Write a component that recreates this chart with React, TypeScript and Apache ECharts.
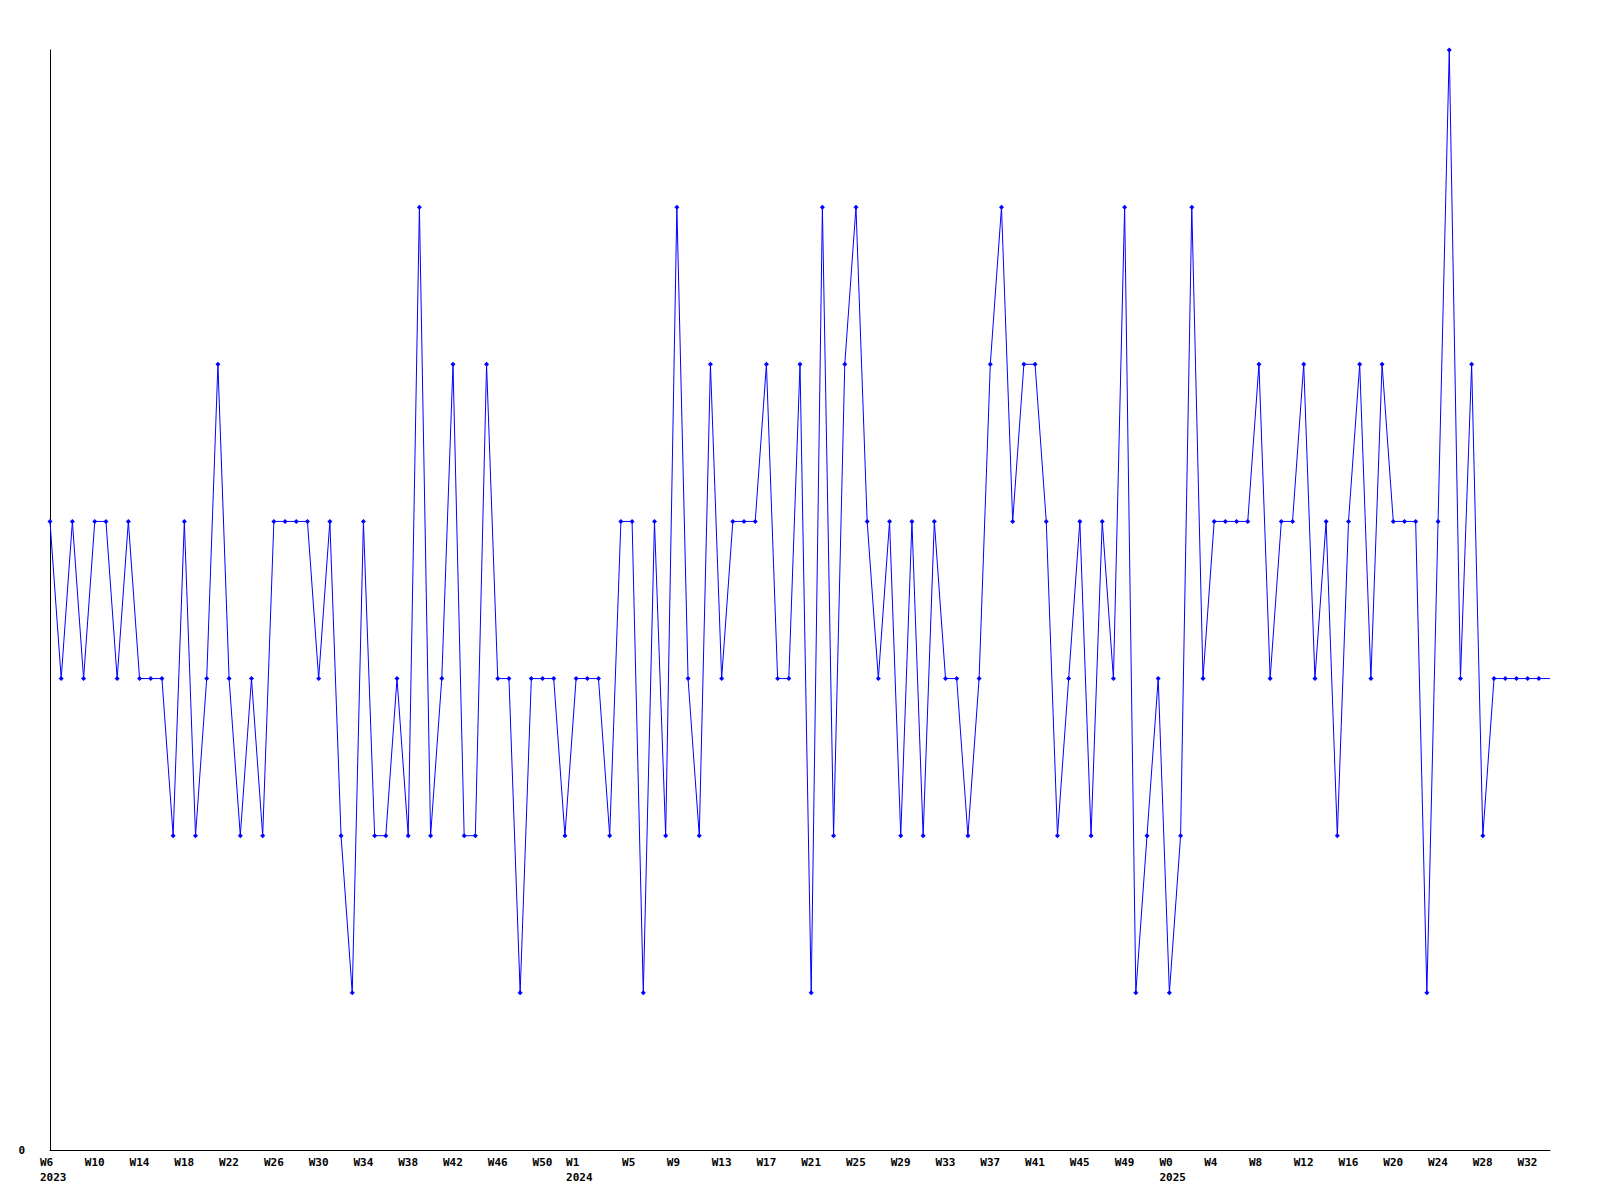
import React, { useEffect, useRef } from "react";
import * as echarts from "echarts";

// Weekly categories: 2023 W6..W53, 2024 W1..W52, 2025 W0..W34
const yearBlocks = [
  { year: 2023, from: 6, to: 53 },
  { year: 2024, from: 1, to: 52 },
  { year: 2025, from: 0, to: 34 },
];

const categories: string[] = [];
yearBlocks.forEach((b) => {
  for (let w = b.from; w <= b.to; w++) categories.push(`${b.year}-W${w}`);
});

const values: number[] = [
  4, 3, 4, 3, 4, 4, 3, 4, 3, 3, 3, 2, 4, 2, 3, 5, 3, 2, 3, 2,
  4, 4, 4, 4, 3, 4, 2, 1, 4, 2, 2, 3, 2, 6, 2, 3, 5, 2, 2, 5,
  3, 3, 1, 3, 3, 3, 2, 3, 3, 3, 2, 4, 4, 1, 4, 2, 6, 3, 2, 5,
  3, 4, 4, 4, 5, 3, 3, 5, 1, 6, 2, 5, 6, 4, 3, 4, 2, 4, 2, 4,
  3, 3, 2, 3, 5, 6, 4, 5, 5, 4, 2, 3, 4, 2, 4, 3, 6, 1, 2, 3,
  1, 2, 6, 3, 4, 4, 4, 4, 5, 3, 4, 4, 5, 3, 4, 2, 4, 5, 3, 5,
  4, 4, 4, 1, 4, 7, 3, 5, 2, 3, 3, 3, 3, 3, 3,
];

// Tick labels shown every 4th week; the 2024 year tick sits at the year start (Jan 1)
const weekTickLabels = [
  "W6", "W10", "W14", "W18", "W22", "W26", "W30", "W34", "W38", "W42", "W46", "W50",
  "W1", "W5", "W9", "W13", "W17", "W21", "W25", "W29", "W33", "W37", "W41", "W45", "W49",
  "W0", "W4", "W8", "W12", "W16", "W20", "W24", "W28", "W32",
];
const tickStep = 4;
const tickIndexOverride: Record<number, number> = { 12: 47 };
const yearTickLabels: Record<number, string> = { 0: "2023", 12: "2024", 25: "2025" };

const yMin = 0;
const yMax = 7;

export default function App() {
  const ref = useRef<HTMLDivElement>(null);
  useEffect(() => {
    if (!ref.current) return;
    const chart = echarts.init(ref.current, null, { renderer: "svg" });
    const font = "DejaVu Sans Mono";
    const labelAt = new Map<number, string>();
    weekTickLabels.forEach((w, k) => {
      const idx = tickIndexOverride[k] !== undefined ? tickIndexOverride[k] : k * tickStep;
      labelAt.set(idx, yearTickLabels[k] ? `${w}\n${yearTickLabels[k]}` : w);
    });
    const data = values.map((v, i) =>
      i === values.length - 1 ? { value: v, symbol: "none" } : v
    );
    chart.setOption({
      animation: false,
      backgroundColor: "#ffffff",
      grid: { left: 50, right: 50, top: 50, bottom: 50, containLabel: false },
      xAxis: {
        type: "category",
        data: categories,
        boundaryGap: false,
        axisLine: { show: true, lineStyle: { color: "#000000", width: 1 } },
        axisTick: { show: false },
        splitLine: { show: false },
        axisLabel: {
          interval: (index: number) => labelAt.has(index),
          margin: 5,
          align: "left",
          padding: [0, 0, 0, -10],
          color: "#000000",
          fontFamily: font,
          fontWeight: "bold",
          fontSize: 11,
          lineHeight: 15,
          formatter: (_val: string, index: number) => labelAt.get(index) || "",
        },
      },
      yAxis: {
        type: "value",
        min: yMin,
        max: yMax,
        interval: 7,
        axisLine: { show: true, lineStyle: { color: "#000000", width: 1 } },
        axisTick: { show: false },
        splitLine: { show: false },
        axisLabel: {
          margin: 25,
          color: "#000000",
          fontFamily: font,
          fontWeight: "bold",
          fontSize: 11,
          formatter: (v: number) => (v === 0 ? "0" : ""),
        },
      },
      series: [
        {
          type: "line",
          data,
          showAllSymbol: true,
          symbol: "diamond",
          symbolSize: 5,
          lineStyle: { color: "#0000ff", width: 1 },
          itemStyle: { color: "#0000ff" },
          clip: false,
        },
      ],
    });
    return () => chart.dispose();
  }, []);
  return (
    <div
      ref={ref}
      style={{ position: "absolute", left: 0, top: 0, width: 1600, height: 1200 }}
    />
  );
}
